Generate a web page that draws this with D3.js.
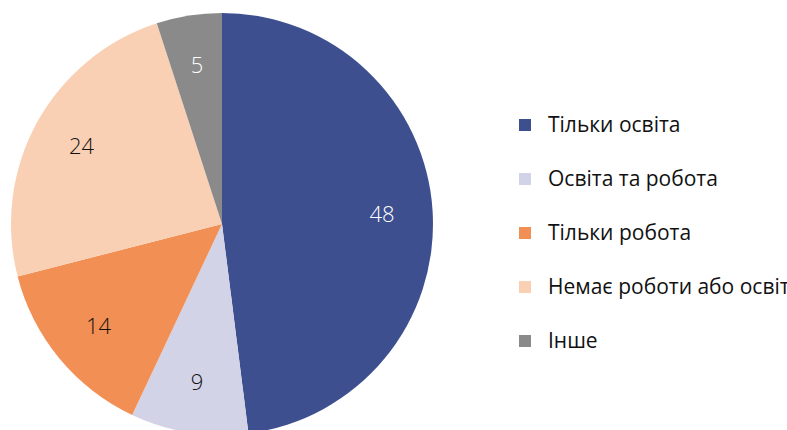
<!DOCTYPE html>
<html>
<head>
<meta charset="utf-8">
<script src="https://cdn.jsdelivr.net/npm/d3@7"></script>
<style>
  body { margin: 0; background: #fff; }
  svg { display: block; font-family: "Open Sans", sans-serif; }
</style>
</head>
<body>
<svg width="787" height="430"></svg>
<script>
const categories = ['Тільки освіта', 'Освіта та робота', 'Тільки робота', 'Немає роботи або освіти', 'Інше'];
const values = [48, 9, 14, 24, 5];
const colors = ['#3d4f8f', '#d3d3e7', '#f28f55', '#f9d0b4', '#8a8a8a'];
const labelColors = ['#ffffff', '#111111', '#111111', '#111111', '#ffffff'];

const svg = d3.select('svg');
const cx = 222, cy = 224, radius = 211;

const pie = d3.pie().sort(null).value(d => d.value);
const arc = d3.arc().innerRadius(0).outerRadius(radius);
const labelArc = d3.arc().innerRadius(radius * 0.76).outerRadius(radius * 0.76);

const data = categories.map((c, i) => ({ name: c, value: values[i], color: colors[i], label: labelColors[i] }));

const g = svg.append('g').attr('transform', `translate(${cx},${cy})`);
const slices = g.selectAll('g.slice').data(pie(data)).enter().append('g').attr('class', 'slice');

slices.append('path')
    .attr('d', arc)
    .attr('fill', d => d.data.color);

slices.append('text')
    .attr('transform', d => `translate(${labelArc.centroid(d)})`)
    .attr('text-anchor', 'middle')
    .attr('dy', '0.35em')
    .attr('font-size', 22)
    .attr('font-weight', 300)
    .attr('fill', d => d.data.label)
    .text(d => d.data.value);

const legend = svg.append('g').attr('transform', 'translate(519,125)');
const items = legend.selectAll('g').data(data).enter().append('g')
    .attr('transform', (d, i) => `translate(0,${i * 54})`);

items.append('rect')
    .attr('x', 0).attr('y', -6)
    .attr('width', 12).attr('height', 12)
    .attr('fill', d => d.color);

items.append('text')
    .attr('x', 29)
    .attr('dy', '0.35em')
    .attr('font-size', 21)
    .attr('fill', '#111')
    .text(d => d.name);
</script>
</body>
</html>
